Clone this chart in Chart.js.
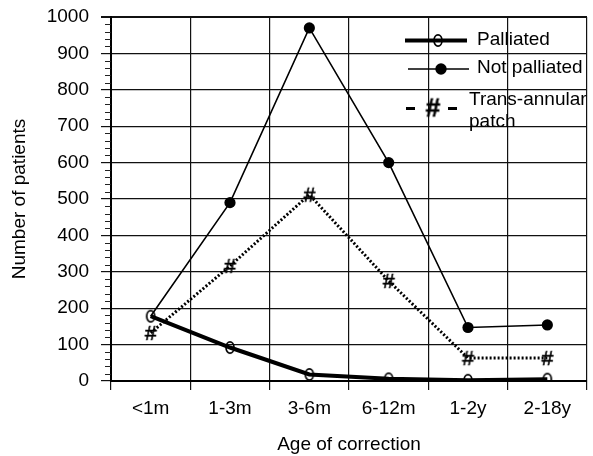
<!DOCTYPE html>
<html>
<head>
<meta charset="utf-8">
<script src="https://cdn.jsdelivr.net/npm/chart.js@4"></script>
<style>
    html, body { margin: 0; padding: 0; background: #fff; overflow: hidden; }
    #wrap { position: relative; width: 595px; height: 456px; }
</style>
</head>
<body>
<div id="wrap"><canvas id="chart-age-correction"></canvas></div>
<script>
// ── Number of patients by age of correction ──────────────────────────────────

var ages         = ['<1m', '1-3m', '3-6m', '6-12m', '1-2y', '2-18y'];
var palliated    = [178, 92, 18, 6, 2, 5];
var notPalliated = [178, 490, 970, 600, 147, 154];
var transAnnular = [132, 316, 512, 275, 63, 63];
var yMin = 0, yMax = 1000, yStep = 100, yMinorStep = 20;

var FONT = '"Liberation Sans", Arial, Helvetica, sans-serif';

// Hollow "o" marker (drawn as an upright ellipse, the line shows through)
function ovalMark() {
    var c = document.createElement('canvas');
    c.width = 12; c.height = 15;
    var g = c.getContext('2d');
    g.strokeStyle = '#000';
    g.lineWidth = 1.7;
    g.beginPath();
    g.ellipse(6, 7.5, 4, 5.6, 0, 0, Math.PI * 2);
    g.stroke();
    return c;
}

// "#" marker for the trans-annular patch series
function hashMark(size, bold) {
    var c = document.createElement('canvas');
    c.width = Math.ceil(size * 0.8); c.height = Math.ceil(size * 1.1);
    var g = c.getContext('2d');
    g.fillStyle = '#000';
    g.strokeStyle = '#000';
    g.lineWidth = 0.6;
    g.font = (bold ? 'bold ' : '') + size + 'px ' + FONT;
    g.textAlign = 'center';
    g.textBaseline = 'middle';
    g.fillText('#', c.width / 2, c.height / 2 + 1);
    g.strokeText('#', c.width / 2, c.height / 2 + 1);
    return c;
}

var oval = ovalMark();
var hash = hashMark(21, false);
var hashBig = hashMark(26, true);

// Minor ticks on the y axis (every 20)
var minorTicksPlugin = {
    id: 'minorTicks',
    afterDraw: function (chart) {
        var ctx = chart.ctx, y = chart.scales.y, left = chart.chartArea.left;
        ctx.save();
        ctx.strokeStyle = '#222';
        ctx.lineWidth = 1;
        for (var v = yMin; v <= yMax; v += yMinorStep) {
            if (v % yStep === 0) continue;
            var py = Math.round(y.getPixelForValue(v)) + 0.5;
            ctx.beginPath();
            ctx.moveTo(left - 6, py);
            ctx.lineTo(left, py);
            ctx.stroke();
        }
        ctx.restore();
    }
};

// Legend drawn inside the plot, top right
var insideLegendPlugin = {
    id: 'insideLegend',
    afterDraw: function (chart) {
        var ctx = chart.ctx;
        ctx.save();
        ctx.strokeStyle = '#000';
        ctx.fillStyle = '#000';
        ctx.font = '19px ' + FONT;
        ctx.textAlign = 'left';
        ctx.textBaseline = 'middle';

        // Palliated
        ctx.lineWidth = 4;
        ctx.beginPath(); ctx.moveTo(405, 40.5); ctx.lineTo(467, 40.5); ctx.stroke();
        ctx.drawImage(oval, 438 - oval.width / 2, 40.5 - oval.height / 2);
        ctx.fillText('Palliated', 477, 40);

        // Not palliated
        ctx.lineWidth = 1.5;
        ctx.beginPath(); ctx.moveTo(408, 69); ctx.lineTo(469, 69); ctx.stroke();
        ctx.beginPath(); ctx.arc(441, 69, 5.7, 0, Math.PI * 2); ctx.fill();
        ctx.fillText('Not palliated', 477, 68);

        // Trans-annular patch
        ctx.fillRect(406, 107, 9, 3);
        ctx.fillRect(448, 107, 9, 3);
        ctx.drawImage(hashBig, 433 - hashBig.width / 2, 108 - hashBig.height / 2);
        ctx.fillText('Trans-annular', 469, 100);
        ctx.fillText('patch', 469, 122);
        ctx.restore();
    }
};

/* global Chart */
new Chart(document.getElementById('chart-age-correction'), {
    type: 'line',
    data: {
        labels: ages,
        datasets: [
            {
                label: 'Palliated',
                data: palliated,
                borderColor: '#000',
                borderWidth: 4,
                pointStyle: oval,
                tension: 0,
                order: 1
            },
            {
                label: 'Not palliated',
                data: notPalliated,
                borderColor: '#000',
                backgroundColor: '#000',
                borderWidth: 1.6,
                pointStyle: 'circle',
                pointRadius: [0, 5.6, 5.6, 5.6, 5.6, 5.6],
                pointBorderWidth: 0,
                tension: 0,
                order: 2
            },
            {
                label: 'Trans-annular patch',
                data: transAnnular,
                borderColor: '#000',
                borderWidth: 3,
                borderDash: [2, 2],
                borderCapStyle: 'butt',
                pointStyle: hash,
                tension: 0,
                order: 3
            }
        ]
    },
    options: {
        responsive: true,
        maintainAspectRatio: false,
        animation: false,
        layout: { padding: { top: 17, right: 1, left: 0, bottom: 0 } },
        plugins: {
            legend: { display: false },
            tooltip: { enabled: false }
        },
        scales: {
            x: {
                offset: true,
                grid: { offset: true, color: '#111', lineWidth: 1.2, tickLength: 9 },
                border: { color: '#000', width: 2 },
                ticks: { color: '#000', font: { size: 19, family: FONT }, padding: 7, maxRotation: 0 },
                title: {
                    display: true, text: 'Age of correction', color: '#000',
                    font: { size: 19, family: FONT }, padding: { top: 0, bottom: 0 }
                },
                afterFit: function (s) {
                    s.height = 75;
                    s.paddingLeft = 0; s.paddingRight = 0;
                }
            },
            y: {
                min: yMin,
                max: yMax,
                grid: {
                    color: '#111',
                    lineWidth: function (c) { return c.tick && c.tick.value === yMax ? 2 : 1.2; },
                    tickLength: 10
                },
                border: { color: '#000', width: 2 },
                ticks: {
                    stepSize: yStep, color: '#000', font: { size: 19, family: FONT }, padding: 12,
                    callback: function (v) { return String(v); }
                },
                title: {
                    display: true, text: 'Number of patients', color: '#000',
                    font: { size: 19, family: FONT }, padding: { top: 8, bottom: 0 }
                },
                afterFit: function (s) {
                    s.width = 111;
                    s.paddingTop = 0; s.paddingBottom = 0;
                }
            }
        }
    },
    plugins: [minorTicksPlugin, insideLegendPlugin]
});
</script>
</body>
</html>
